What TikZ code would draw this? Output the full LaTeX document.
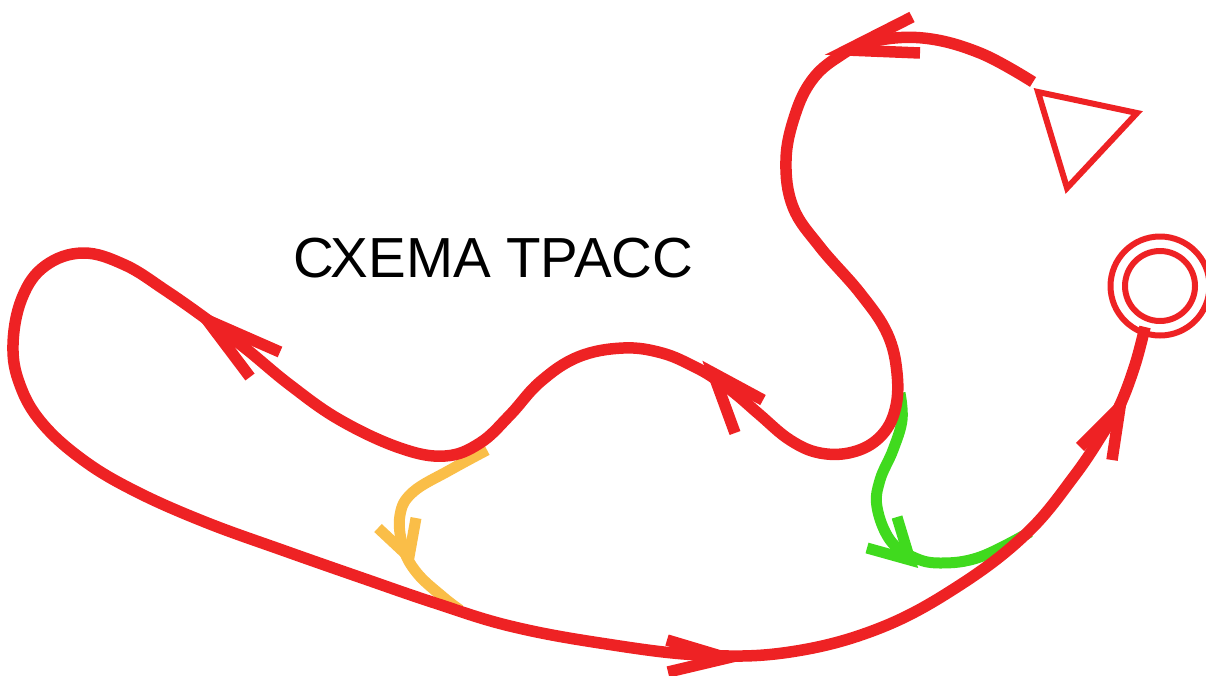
\documentclass[tikz,border=0pt]{standalone}
\usepackage{fontspec}
\setmainfont{Liberation Sans}
\definecolor{trackred}{RGB}{238,34,36}
\definecolor{shortorange}{RGB}{250,190,72}
\definecolor{shortgreen}{RGB}{64,218,30}
\tikzset{
  track/.style={line width=11.5pt, line cap=butt, line join=round},
  shortcut/.style={line width=11pt, line cap=butt, line join=round},
  chev/.style={line width=11.5pt, line cap=butt, line join=miter},
  shortchev/.style={line width=11pt, line cap=butt, line join=miter},
  mark outline/.style={line width=6pt, draw=trackred},
}
\begin{document}
\begin{tikzpicture}[x=1pt,y=-1pt]
\useasboundingbox (0,0) rectangle (1206,675);
% start and finish
\coordinate (trackstart) at (1033,82);
\coordinate (trackend) at (1145,327);
\draw[mark outline, line join=miter] (1038,92) -- (1137,113) -- (1067,188) -- cycle;
\node[mark outline, circle, minimum size=99pt, inner sep=0pt] (finish) at (1160,286) {};
\node[mark outline, circle, minimum size=70pt, inner sep=0pt] (finishin) at (1160,286) {};
% title
\node[font=\fontsize{56.5}{60}\selectfont, anchor=center] (title) at (493,258) {СХЕМА ТРАСС};
% orange shortcut
\draw[shortcut, shortorange] plot[smooth, tension=0.65] coordinates {(487,450) (450,470) (413,492) (400,515) (403,547) (417,573) (443,597) (460,610)};
\draw[shortchev, shortorange] (378,528) -- (409,557) -- (416,518);
% green shortcut
\draw[shortcut, shortgreen] plot[smooth, tension=0.65] coordinates {(900,393) (902,420) (893,450) (880,480) (877,507) (890,540) (913,557) (940,563) (980,557) (1030,532)};
\draw[shortchev, shortgreen] (867,548) -- (910,560) -- (897,517);
% main track
\draw[track, trackred] plot[smooth, tension=0.65] coordinates {
 (trackstart) (980,53) (923,38) (870,42) (838,57) (812,80) (795,115) (786,160) (793,207) (820,247) (860,293) (887,333) (897,373) (895,410) (880,437) (853,452) (820,453) (790,440) (760,415) (737,395) (717,380) (695,367) (662,353) (623,348) (578,357) (540,382) (510,415) (480,443) (445,456) (400,448) (340,420) (290,385) (245,348) (205,318) (165,290) (125,265) (83,253) (45,266) (22,298) (13,345) (20,385) (42,423) (83,460) (135,491) (205,522) (285,551) (365,579) (435,603) (510,626) (600,643) (700,655) (790,652) (880,628) (960,585) (1027,533) (1075,475) (1105,430) (1120,405) (1135,365) (trackend)};
\draw[chev, trackred] (912,17) -- (847,50) -- (920,53);
\draw[chev, trackred] (280,352) -- (207,320) -- (250,377);
\draw[chev, trackred] (763,400) -- (713,373) -- (735,433);
\draw[chev, trackred] (667,640) -- (727,658) -- (668,672);
\draw[chev, trackred] (1080,447) -- (1120,407) -- (1112,460);
\end{tikzpicture}
\end{document}
